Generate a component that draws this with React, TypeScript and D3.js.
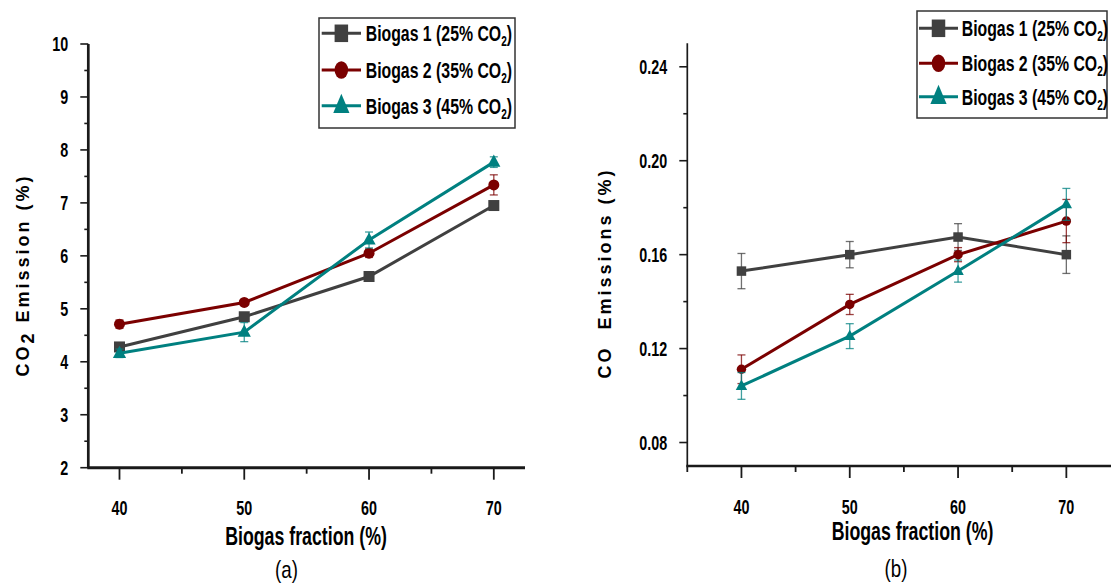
import React from "react";
import * as d3 from "d3";

// ---------- data ----------
const xValues = [40, 50, 60, 70];
const seriesLabels = ["Biogas 1 (25% CO", "Biogas 2 (35% CO", "Biogas 3 (45% CO"];
const seriesColors = ["#404040", "#7b0000", "#008080"];
const seriesShapes = ["square", "circle", "triangle"];

// (a) CO2 emission (%)
const co2Biogas1 = [4.28, 4.85, 5.61, 6.95];
const co2Biogas2 = [4.71, 5.12, 6.05, 7.34];
const co2Biogas3 = [4.16, 4.56, 6.3, 7.77];
const co2Err1 = [0.05, 0.05, 0.05, 0.05];
const co2Err2 = [0.08, 0.05, 0.08, 0.19];
const co2Err3 = [0.08, 0.18, 0.15, 0.1];

// (b) CO emissions (%)
const coBiogas1 = [0.153, 0.16, 0.1675, 0.16];
const coBiogas2 = [0.1112, 0.1388, 0.16, 0.1743];
const coBiogas3 = [0.1041, 0.1253, 0.153, 0.1814];
const coErr1 = [0.0075, 0.0056, 0.0057, 0.008];
const coErr2 = [0.0061, 0.0043, 0.003, 0.0092];
const coErr3 = [0.0057, 0.0053, 0.0047, 0.0068];

const co2YTicks = [2, 3, 4, 5, 6, 7, 8, 9, 10];
const co2YMinor = [2.5, 3.5, 4.5, 5.5, 6.5, 7.5, 8.5, 9.5];
const coYTicks = [0.08, 0.12, 0.16, 0.2, 0.24];
const coYMinor = [0.1, 0.14, 0.18, 0.22];
const xMajorTicks = [40, 50, 60, 70];
const xMinorA = [45, 55, 65];
const xMinorB = [35, 45, 55, 65, 75];

const xAxisTitle = "Biogas fraction (%)";

const SANS = "'Liberation Sans', Arial, sans-serif";

// narrow text emulated by horizontal scaling of Liberation Sans
function NText({
  x,
  y,
  anchor = "start",
  size,
  bold = true,
  sx = 0.78,
  children,
}: {
  x: number;
  y: number;
  anchor?: string;
  size: number;
  bold?: boolean;
  sx?: number;
  children: React.ReactNode;
}) {
  return (
    <text
      transform={`translate(${x},${y}) scale(${sx},1)`}
      textAnchor={anchor}
      fontFamily={SANS}
      fontWeight={bold ? "bold" : "normal"}
      fontSize={size}
      fill="#000"
    >
      {children}
    </text>
  );
}

type PanelCfg = {
  xDomain: [number, number];
  xRange: [number, number];
  yDomain: [number, number];
  yRange: [number, number];
  yTicks: number[];
  yMinor: number[];
  xMinor: number[];
  yFormat: (v: number) => string;
  series: number[][];
  errors: number[][];
  yAxisWidth: number;
  xAxisWidth: number;
  markerScale: number;
  xTickLabelY: number;
  xTitleX: number;
  xTitleY: number;
  panelLabel: string;
  panelLabelX: number;
  panelLabelY: number;
  yTitle: React.ReactNode;
  yTitleX: number;
  yTitleY: number;
  legend: { x: number; y: number; w: number; h: number; rows: number[]; lineX0: number; lineX1: number; textX: number };
};

function Marker({ shape, cx, cy, color, s, sy = 1 }: { shape: string; cx: number; cy: number; color: string; s: number; sy?: number }) {
  if (shape === "square") {
    const w = 10 * s;
    const h = 10 * s * sy;
    return <rect x={cx - w / 2} y={cy - h / 2} width={w} height={h} fill={color} />;
  }
  if (shape === "circle") {
    return <ellipse cx={cx} cy={cy} rx={5 * s} ry={5 * s * sy} fill={color} />;
  }
  const w = 12 * s;
  const h = 11 * s * sy;
  const p = `M${cx},${cy - h * 0.62}L${cx + w / 2},${cy + h * 0.38}L${cx - w / 2},${cy + h * 0.38}Z`;
  return <path d={p} fill={color} />;
}

function Panel({ cfg }: { cfg: PanelCfg }) {
  const x = d3.scaleLinear().domain(cfg.xDomain).range(cfg.xRange);
  const y = d3.scaleLinear().domain(cfg.yDomain).range(cfg.yRange);
  const axisColor = "#1a1a1a";
  const x0 = cfg.xRange[0];
  const yBottom = cfg.yRange[0];
  const yTop = cfg.yRange[1];
  const line = d3
    .line<number>()
    .x((_, i) => x(xValues[i]))
    .y((d) => y(d));
  const L = cfg.legend;
  return (
    <g>
      {/* series */}
      {cfg.series.map((vals, si) => (
        <g key={si}>
          {vals.map((v, i) => {
            const e = cfg.errors[si][i];
            const cx = x(xValues[i]);
            return (
              <g key={i} stroke={seriesColors[si]} strokeOpacity={0.75} strokeWidth={1.3}>
                <line x1={cx} x2={cx} y1={y(v - e)} y2={y(v + e)} />
                <line x1={cx - 4} x2={cx + 4} y1={y(v - e)} y2={y(v - e)} />
                <line x1={cx - 4} x2={cx + 4} y1={y(v + e)} y2={y(v + e)} />
              </g>
            );
          })}
          <path d={line(vals) || ""} fill="none" stroke={seriesColors[si]} strokeWidth={3} />
          {vals.map((v, i) => (
            <Marker key={i} shape={seriesShapes[si]} cx={x(xValues[i])} cy={y(v)} color={seriesColors[si]} s={cfg.markerScale} />
          ))}
        </g>
      ))}

      {/* y axis */}
      <line x1={x0} x2={x0} y1={yTop} y2={yBottom} stroke={axisColor} strokeWidth={cfg.yAxisWidth} />
      {cfg.yTicks.map((t) => (
        <g key={t}>
          <line x1={x0 - 8} x2={x0} y1={y(t)} y2={y(t)} stroke={axisColor} strokeWidth={1.6} />
          <NText x={x0 - 20} y={y(t) + 7.3} anchor="end" size={20.5} sx={0.7}>
            {cfg.yFormat(t)}
          </NText>
        </g>
      ))}
      {cfg.yMinor.map((t) => (
        <line key={t} x1={x0 - 4} x2={x0} y1={y(t)} y2={y(t)} stroke={axisColor} strokeWidth={1.6} />
      ))}

      {/* x axis */}
      <line x1={x0 - 1} x2={cfg.xRange[1]} y1={yBottom} y2={yBottom} stroke={axisColor} strokeWidth={cfg.xAxisWidth} />
      {xMajorTicks.map((t) => (
        <g key={t}>
          <line x1={x(t)} x2={x(t)} y1={yBottom} y2={yBottom + 12} stroke={axisColor} strokeWidth={1.8} />
          <NText x={x(t)} y={cfg.xTickLabelY} anchor="middle" size={20.5} sx={0.7}>
            {t}
          </NText>
        </g>
      ))}
      {cfg.xMinor.map((t) => (
        <line key={t} x1={x(t)} x2={x(t)} y1={yBottom} y2={yBottom + 6} stroke={axisColor} strokeWidth={1.8} />
      ))}

      {/* titles */}
      <NText x={cfg.xTitleX} y={cfg.xTitleY} anchor="middle" size={25} sx={0.71}>
        {xAxisTitle}
      </NText>
      <NText x={cfg.panelLabelX} y={cfg.panelLabelY} anchor="middle" size={24} bold={false} sx={0.78}>
        {cfg.panelLabel}
      </NText>
      <text
        transform={`translate(${cfg.yTitleX},${cfg.yTitleY}) rotate(-90)`}
        textAnchor="middle"
        fontFamily={SANS}
        fontWeight="bold"
        fontSize={18}
        letterSpacing={3}
        fill="#000"
        style={{ whiteSpace: "pre" }}
      >
        {cfg.yTitle}
      </text>

      {/* legend */}
      <rect x={L.x} y={L.y} width={L.w} height={L.h} fill="#fff" stroke="#333" strokeWidth={1.5} />
      {seriesLabels.map((lab, si) => (
        <g key={si}>
          <line x1={L.lineX0} x2={L.lineX1} y1={L.rows[si]} y2={L.rows[si]} stroke={seriesColors[si]} strokeWidth={3} />
          <Marker shape={seriesShapes[si]} cx={(L.lineX0 + L.lineX1) / 2} cy={L.rows[si]} color={seriesColors[si]} s={1.35} sy={1.3} />
          <NText x={L.textX} y={L.rows[si] + 8} size={22} sx={0.72}>
            {lab}
            <tspan fontSize={14} dy={5}>
              2
            </tspan>
            <tspan dy={-5}>)</tspan>
          </NText>
        </g>
      ))}
    </g>
  );
}

const panelA: PanelCfg = {
  xDomain: [37.5, 72.5],
  xRange: [88.3, 525],
  yDomain: [2, 10],
  yRange: [467.7, 44],
  yTicks: co2YTicks,
  yMinor: co2YMinor,
  xMinor: xMinorA,
  yFormat: (v) => String(v),
  series: [co2Biogas1, co2Biogas2, co2Biogas3],
  errors: [co2Err1, co2Err2, co2Err3],
  yAxisWidth: 2.7,
  xAxisWidth: 3,
  markerScale: 1.1,
  xTickLabelY: 515,
  xTitleX: 306,
  xTitleY: 545,
  panelLabel: "(a)",
  panelLabelX: 286.5,
  panelLabelY: 578,
  yTitle: (
    <>
      CO
      <tspan dy={5}>2</tspan>
      <tspan dy={-5}> Emission (%)</tspan>
    </>
  ),
  yTitleX: 29,
  yTitleY: 275,
  legend: { x: 319, y: 18, w: 196, h: 110, rows: [33.3, 70, 105.7], lineX0: 321.7, lineX1: 361, textX: 365.7 },
};

const panelB: PanelCfg = {
  xDomain: [35, 75],
  xRange: [687.3, 1120.5],
  yDomain: [0.07, 0.25],
  yRange: [466, 43.3],
  yTicks: coYTicks,
  yMinor: coYMinor,
  xMinor: xMinorB,
  yFormat: (v) => d3.format(".2f")(v),
  series: [coBiogas1, coBiogas2, coBiogas3],
  errors: [coErr1, coErr2, coErr3],
  yAxisWidth: 1.7,
  xAxisWidth: 2.7,
  markerScale: 0.95,
  xTickLabelY: 514,
  xTitleX: 912.5,
  xTitleY: 540,
  panelLabel: "(b)",
  panelLabelX: 896,
  panelLabelY: 577,
  yTitle: <>CO  Emissions (%)</>,
  yTitleX: 611,
  yTitleY: 273,
  legend: { x: 917, y: 11, w: 190, h: 107, rows: [28.3, 63.3, 96.7], lineX0: 919, lineX1: 958, textX: 961.7 },
};

export default function App() {
  return (
    <svg
      width={1111}
      height={585}
      viewBox="0 0 1111 585"
      style={{ position: "absolute", left: 0, top: 0, background: "#fff" }}
    >
      <rect x={0} y={0} width={1111} height={585} fill="#fff" />
      <Panel cfg={panelA} />
      <Panel cfg={panelB} />
    </svg>
  );
}
